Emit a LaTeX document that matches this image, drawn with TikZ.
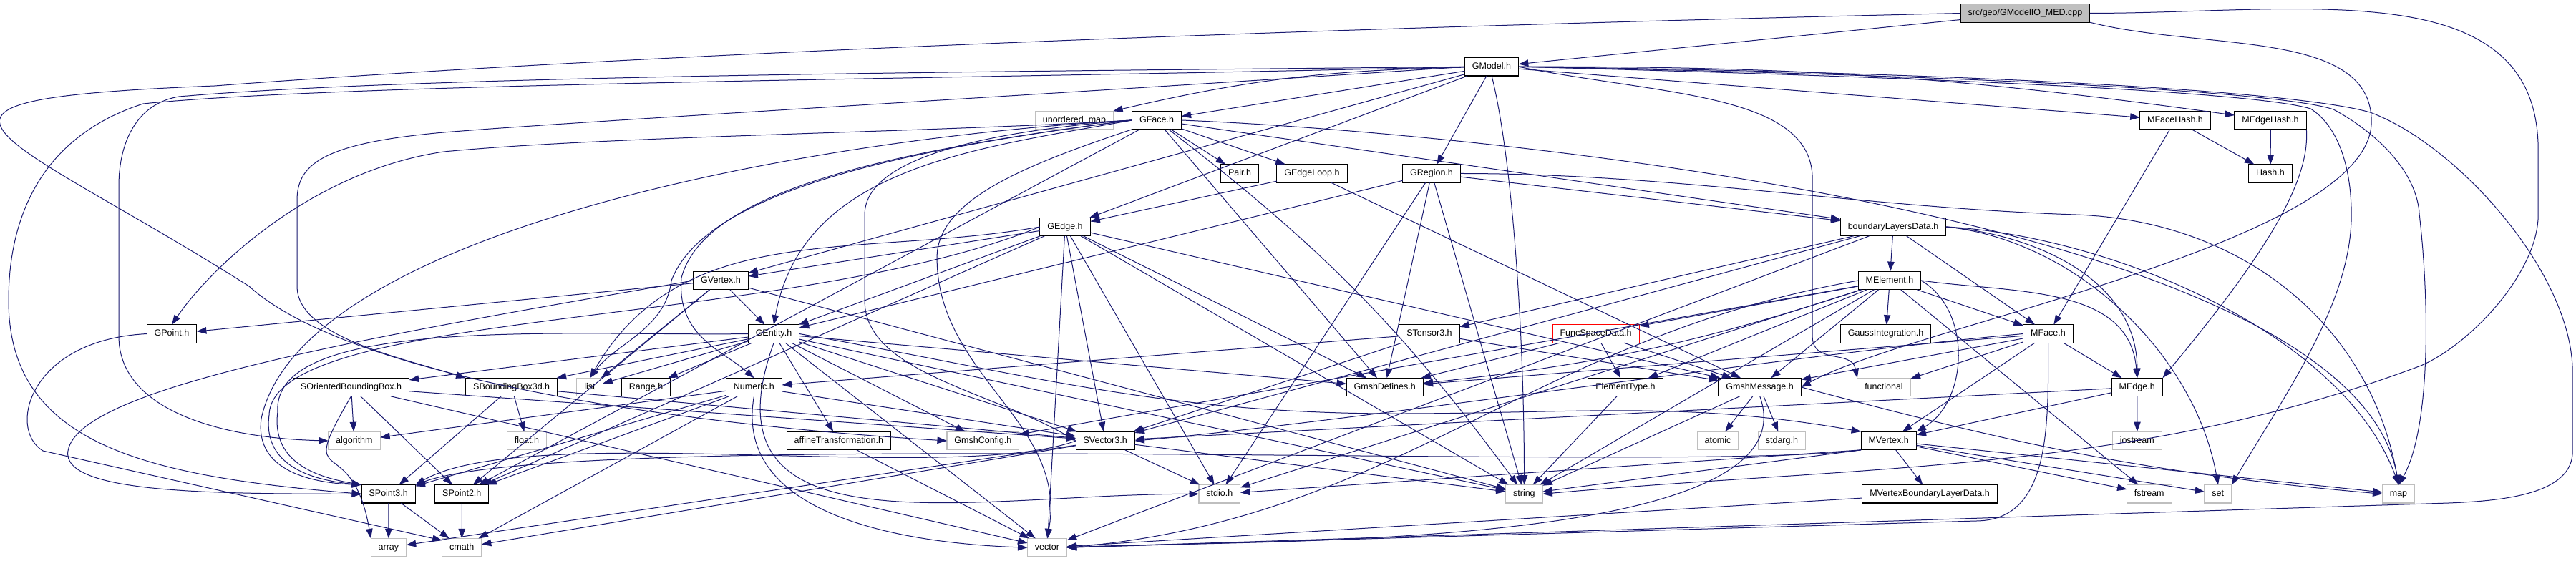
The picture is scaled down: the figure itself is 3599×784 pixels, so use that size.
\documentclass[tikz,border=0pt]{standalone}
\usepackage{fontspec}
\setmainfont{Liberation Sans}
\usetikzlibrary{arrows.meta,positioning}
\definecolor{edgenavy}{HTML}{191970}
\definecolor{sysgray}{HTML}{BFBFBF}

\begin{document}
\begin{tikzpicture}[x=1pt, y=-1pt, scale=0.1, transform shape,
  hdr/.style={draw=black, fill=white, line width=0.11pt, inner xsep=10.5pt,
    inner ysep=0pt, minimum height=25.5pt, text height=9pt, text depth=2.6pt,
    font=\fontsize{12.5}{14}\selectfont},
  sys/.style={hdr, draw=sysgray},
  srcfile/.style={hdr, fill=sysgray},
  truncated/.style={hdr, draw=red},
  dep/.style={draw=edgenavy, line width=0.1pt,
    -{Triangle[length=1.35pt, width=0.95pt]}}
]
  \fill[white] (0,0) rectangle (3599,784);
  \useasboundingbox (0,0) rectangle (3599,784);

  % the documented file and its headers, row by row
  \node[srcfile] (med) at (2829.5,18.5) {src/geo/GModelIO\_MED.cpp};
  \node[hdr] (gmodel) at (2084,93.3) {GModel.h};

  \node[sys] (umap) at (1501,168) {unordered\_map};
  \node[hdr] (gface) at (1616,168) {GFace.h};
  \node[hdr] (mfacehash) at (3039,168) {MFaceHash.h};
  \node[hdr] (medgehash) at (3172,168) {MEdgeHash.h};

  \node[hdr] (pair) at (1732,242.5) {Pair.h};
  \node[hdr] (gedgeloop) at (1833,242.5) {GEdgeLoop.h};
  \node[hdr] (gregion) at (2000,242.5) {GRegion.h};
  \node[hdr] (hash) at (3172,242.5) {Hash.h};

  \node[hdr] (gedge) at (1488,317) {GEdge.h};
  \node[hdr] (bld) at (2645,317) {boundaryLayersData.h};

  \node[hdr] (gvertex) at (1007,392) {GVertex.h};
  \node[hdr] (melement) at (2640,392) {MElement.h};

  \node[hdr] (gpoint) at (240,466.5) {GPoint.h};
  \node[hdr] (gentity) at (1081,466.5) {GEntity.h};
  \node[hdr] (stensor) at (1997,466.5) {STensor3.h};
  \node[truncated] (funcspace) at (2229.6,466.5) {FuncSpaceData.h};
  \node[hdr] (gauss) at (2634.6,466.5) {GaussIntegration.h};
  \node[hdr] (mface) at (2861.5,466.5) {MFace.h};

  \node[hdr] (sobb) at (490.5,541) {SOrientedBoundingBox.h};
  \node[hdr] (sbb) at (714.7,541) {SBoundingBox3d.h};
  \node[sys] (list) at (824,541) {list};
  \node[hdr] (range) at (902.6,541) {Range.h};
  \node[hdr] (numeric) at (1053.4,541) {Numeric.h};
  \node[hdr] (gdefs) at (1934.7,541) {GmshDefines.h};
  \node[hdr] (eltype) at (2271,541) {ElementType.h};
  \node[hdr] (gmsg) at (2458.6,541) {GmshMessage.h};
  \node[sys] (functional) at (2632,541) {functional};
  \node[hdr] (medge) at (2985.7,541) {MEdge.h};

  \node[sys] (algorithm) at (494.9,616) {algorithm};
  \node[sys] (floath) at (736,616) {float.h};
  \node[hdr] (affine) at (1171.8,616) {affineTransformation.h};
  \node[sys] (gcfg) at (1373.4,616) {GmshConfig.h};
  \node[hdr] (svector) at (1544.2,616) {SVector3.h};
  \node[sys] (atomic) at (2400,616) {atomic};
  \node[sys] (stdarg) at (2489.4,616) {stdarg.h};
  \node[hdr] (mvertex) at (2638.7,616) {MVertex.h};
  \node[sys] (iostream) at (2985.7,616) {iostream};

  \node[hdr] (spoint3) at (542.7,690.3) {SPoint3.h};
  \node[hdr] (spoint2) at (645.3,690.3) {SPoint2.h};
  \node[sys] (stdio) at (1703.9,690.3) {stdio.h};
  \node[sys] (string) at (2129.4,690.3) {string};
  \node[hdr] (mvbl) at (2696,690.3) {MVertexBoundaryLayerData.h};
  \node[sys] (fstream) at (3002.8,690.3) {fstream};
  \node[sys] (set) at (3098.8,690.3) {set};
  \node[sys] (map) at (3351,690.3) {map};

  \node[sys] (array) at (542.9,765.2) {array};
  \node[sys] (cmath) at (645.2,765.2) {cmath};
  \node[sys] (vector) at (1463,765.2) {vector};

  % bends of the long detours
  \coordinate (lcfg) at (300,120);   \coordinate (lcfgb) at (348,400);
  \coordinate (lalg) at (250,135);   \coordinate (lalgb) at (166,260);
  \coordinate (lalgc) at (166,470);
  \coordinate (lsp) at (200,145);    \coordinate (lspb) at (12,420);
  \coordinate (lsbb) at (620,185);   \coordinate (lsbbb) at (415,280);
  \coordinate (lsbbc) at (415,400);
  \coordinate (lgp) at (620,212);
  \coordinate (lpa) at (365,585);    \coordinate (lpb) at (376,580);
  \coordinate (lpc) at (388,575);    \coordinate (lgv) at (95,630);
  \coordinate (lgc) at (60,630);
  \coordinate (lls) at (938,392);    \coordinate (lnm) at (952,388);
  \coordinate (lsv) at (1208,300);   \coordinate (lsvb) at (1208,420);
  \coordinate (lvc) at (1309,360);
  \coordinate (lfn) at (2532,250);   \coordinate (lfnb) at (2532,470);
  \coordinate (lmv) at (1950,578);   \coordinate (lmf) at (2760,728);
  \coordinate (lrm) at (2900,300);
  \coordinate (rst) at (3546,210);   \coordinate (rstb) at (3546,300);
  \coordinate (rstc) at (3382,511);
  \coordinate (rvec) at (3311,157);  \coordinate (rvecb) at (3594,520);
  \coordinate (rvecc) at (3594,631); \coordinate (rvecd) at (3420,703);
  \coordinate (rset) at (3228,152);  \coordinate (rsetb) at (3285,300);
  \coordinate (rmap) at (3260,153);  \coordinate (rmapb) at (3380,300);
  \coordinate (rmsg) at (3313,170);

  % plain includes
  \foreach \s/\t in {med/gmodel,
      gmodel/gface, gmodel/gregion, gmodel/gvertex, gmodel/gedge, gmodel/mfacehash,
      gface/pair, gface/gedgeloop, gface/bld, gface/gdefs, gface/spoint2,
      gedgeloop/gedge, gedgeloop/gmsg,
      gregion/gentity, gregion/bld, gregion/gdefs, gregion/stdio, gregion/string,
      gedge/gvertex, gedge/gentity, gedge/gdefs, gedge/svector, gedge/spoint2,
      gedge/stdio, gedge/string, gedge/vector, gedge/gmsg,
      gvertex/gpoint, gvertex/gentity, gvertex/list, gvertex/spoint2, gvertex/string,
      gentity/sobb, gentity/sbb, gentity/list, gentity/range, gentity/affine,
      gentity/gdefs, gentity/gcfg, gentity/svector, gentity/string, gentity/vector,
      sobb/algorithm, sobb/spoint2, sobb/svector, sobb/vector,
      sbb/floath, sbb/spoint3, sbb/svector,
      numeric/spoint3, numeric/spoint2, numeric/svector, numeric/cmath, numeric/algorithm,
      affine/vector,
      svector/array, svector/cmath, svector/stdio, svector/string,
      spoint3/array, spoint3/cmath, spoint2/cmath,
      bld/melement, bld/stensor, bld/mface, bld/svector, bld/vector,
      melement/gauss, melement/funcspace, melement/eltype, melement/mface,
      melement/gmsg, melement/stdio, melement/string, melement/fstream, melement/gcfg,
      funcspace/gdefs, funcspace/eltype, funcspace/gmsg,
      eltype/string,
      stensor/svector, stensor/numeric, stensor/gmsg,
      gmsg/atomic, gmsg/stdarg, gmsg/string,
      mface/medge, mface/mvertex, mface/gmsg, mface/functional, mface/gdefs,
      medge/mvertex, medge/iostream, medge/svector,
      mvertex/mvbl, mvertex.south west/stdio, mvertex.south west/string,
      mvertex/fstream, mvertex/set, mvertex/map,
      mvbl/vector,
      mfacehash/hash, mfacehash/mface, medgehash/hash}
    \draw[dep] (\s) -- (\t);

  % includes that take a way round
  \draw[dep] (gmodel) to[bend right=6] (umap);
  \draw[dep] (gmodel) to[bend left=4] (medgehash);
  \draw[dep] (gface) to[bend left=8] (string);
  \draw[dep] (melement) to[bend left=6] (gdefs);
  \draw[dep] (gmodel.south) .. controls +(30,120) and +(0,-200) .. (string.north);
  \draw[dep] (gmodel.east) .. controls +(200,40) and +(0,-120) .. (lfn) -- (lfnb)
    .. controls +(0,40) and +(-8,-40) .. (functional.north west);
  \draw[dep] (gmodel.east) .. controls (2700,100) and (3200,125) .. (rvec)
    .. controls (3430,200) and (3594,380) .. (rvecb) -- (rvecc)
    .. controls (3594,690) and (3500,700) .. (rvecd) -- (vector.east);
  \draw[dep] (gmodel.east) .. controls (2700,108) and (3150,128) .. (rset)
    .. controls (3265,175) and (3285,230) .. (rsetb)
    .. controls (3285,420) and (3200,540) .. (set.north east);
  \draw[dep] (gmodel.east) .. controls (2700,104) and (3180,126) .. (rmap)
    .. controls (3320,185) and (3377,240) .. (rmapb)
    .. controls (3395,430) and (3395,600) .. (map.north);
  \draw[dep] (med.east) .. controls +(300,0) and +(0,-250) .. (rst) -- (rstb)
    .. controls +(0,80) and +(70,-30) .. (rstc)
    .. controls +(-400,150) and +(450,-40) .. (string.east);
  \draw[dep] (med.south east) .. controls +(160,40) and +(0,-130) .. (rmsg)
    .. controls +(0,170) and +(150,-85) .. (gmsg.east);
  \draw[dep] (med.west) .. controls (1800,40) and (900,75) .. (lcfg)
    .. controls (-200,140) and (0,180) .. (lcfgb)
    .. controls (480,520) and (900,590) .. (gcfg.west);
  \draw[dep] (gmodel.west) .. controls (1400,100) and (600,105) .. (lalg)
    .. controls (190,145) and (166,200) .. (lalgb) -- (lalgc)
    .. controls (166,570) and (300,612) .. (algorithm.west);
  \draw[dep] (gmodel.west) .. controls (1400,110) and (500,115) .. (lsp)
    .. controls (60,190) and (12,300) .. (lspb)
    .. controls (12,620) and (200,665) .. (spoint3.west);
  \draw[dep] (gmodel.west) .. controls (1500,130) and (800,170) .. (lsbb)
    .. controls (450,200) and (415,230) .. (lsbbb) -- (lsbbc)
    .. controls (415,470) and (560,500) .. (sbb.north west);

  \draw[dep] (gface.west) .. controls (1300,185) and (850,190) .. (lgp)
    .. controls (430,240) and (290,380) .. (gpoint.north);
  \draw[dep] (gface.west) .. controls (1100,195) and (420,330) .. (lpa)
    .. controls (355,660) and (440,675) .. (spoint3.north west);
  \draw[dep] (gface.west) .. controls (1250,210) and (985,270) .. (lls)
    .. controls (930,460) and (860,480) .. (list.north);
  \draw[dep] (gface.west) .. controls (1250,210) and (985,265) .. (lnm)
    .. controls (945,470) and (1010,490) .. (numeric.north);
  \draw[dep] (gface.west) .. controls +(-220,40) and +(40,-220) .. (gentity.north);
  \draw[dep] (gface.west) .. controls +(-200,15) and +(0,-80) .. (lsv) -- (lsvb)
    .. controls +(0,100) and +(-120,-70) .. (svector.west);
  \draw[dep] (gface.south west) .. controls +(-150,50) and +(0,-80) .. (lvc)
    .. controls +(0,165) and +(29,-162) .. (vector.north);
  \draw[dep] (gface.east) .. controls +(380,15) and +(-66,-380) .. (map.north);
  \draw[dep] (gregion.east) .. controls +(300,0) and +(-300,-10) .. (lrm)
    .. controls +(230,8) and +(-40,-226) .. (map.north);

  \draw[dep] (gvertex.west) .. controls (520,470) and (110,540) .. (lgv)
    .. controls (85,690) and (300,690) .. (spoint3.west);
  \draw[dep] (gedge.west) .. controls (1100,460) and (380,430) .. (lpb)
    .. controls (366,655) and (445,672) .. (spoint3.north west);
  \draw[dep] (gedge.west) .. controls +(-255,45) and +(130,-224) .. (list.north);
  \draw[dep] (gentity.west) .. controls (800,470) and (380,440) .. (lpc)
    .. controls (378,650) and (450,668) .. (spoint3.north west);
  \draw[dep] (gentity.south) .. controls +(-109,300) and +(-320,0) .. (stdio.west);
  \draw[dep] (gentity.east) .. controls +(323,57) and +(-328,0) .. (lmv)
    .. controls +(254,0) and +(-250,-44) .. (mvertex.north west);
  \draw[dep] (gpoint.west) .. controls (40,475) and (10,600) .. (lgc) -- (cmath.160);
  \draw[dep] (sobb.south) .. controls +(-80,137) and +(-27,-156) .. (array.north west);
  \draw[dep] (numeric.south) .. controls +(-30,168) and +(-170,-6) .. (vector.west);
  \draw[dep] (svector.west) .. controls +(-169,62) and +(156,-90) .. (spoint3.north east);

  \draw[dep] (bld.east) .. controls +(133,12) and +(0,-133) .. (medge.north);
  \draw[dep] (bld.east) .. controls +(226,12) and +(-78,-213) .. (map.north);
  \draw[dep] (bld.east) .. controls +(183,19) and +(-32,-181) .. (set.north);
  \draw[dep] (melement.east) .. controls +(130,18) and +(-11,-130) .. (medge.north);
  \draw[dep] (melement.east) .. controls +(72,42) and +(72,-42) .. (mvertex.north east);
  \draw[dep] (melement.west) .. controls +(-459,81) and +(464,-41) .. (vector.east);
  \draw[dep] (gmsg.south) .. controls +(80,221) and +(235,-12) .. (vector.east);
  \draw[dep] (gmsg.east) .. controls +(311,83) and +(-321,-28) .. (map.west);
  \draw[dep] (mface.west) .. controls +(-292,25) and +(292,-25) .. (svector.east);
  \draw[dep] (mface.south) .. controls +(0,116) and +(105,0) .. (lmf) -- (vector.east);
  \draw[dep] (mvertex.south west) .. controls +(-234,33) and +(222,-81) .. (spoint3.north east);
  \draw[dep] (medgehash.south east) .. controls +(5,70) and +(150,-180) .. (medge.north east);
\end{tikzpicture}
\end{document}
